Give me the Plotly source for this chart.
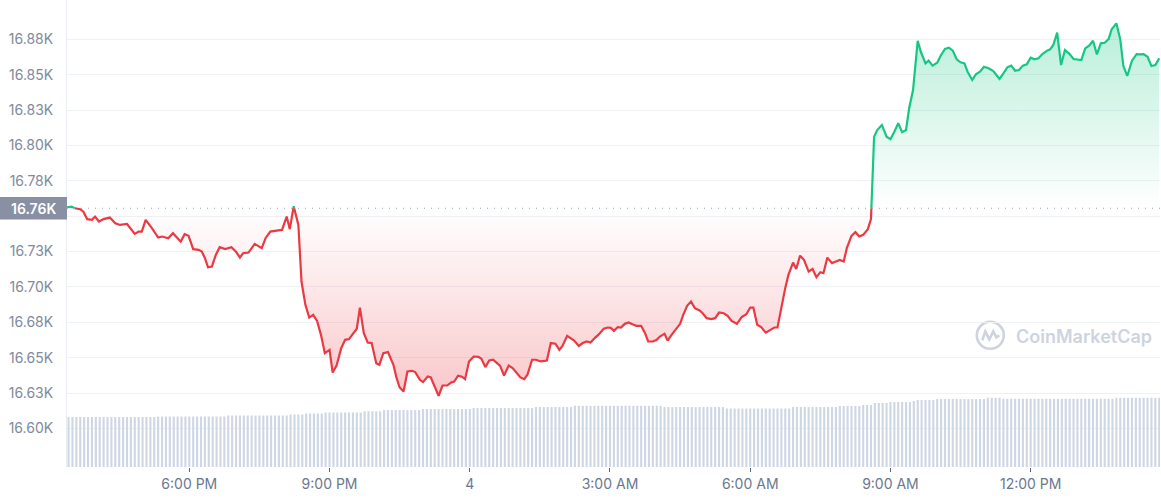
import pandas as pd
import plotly.graph_objects as go

# ---------------- data ----------------
times = [
    "2022-12-03 15:23", "2022-12-03 15:29", "2022-12-03 15:33", "2022-12-03 15:40", "2022-12-03 15:44",
    "2022-12-03 15:49", "2022-12-03 15:55", "2022-12-03 15:59", "2022-12-03 16:04", "2022-12-03 16:10",
    "2022-12-03 16:18", "2022-12-03 16:25", "2022-12-03 16:31", "2022-12-03 16:40", "2022-12-03 16:50",
    "2022-12-03 16:55", "2022-12-03 16:59", "2022-12-03 17:04", "2022-12-03 17:12", "2022-12-03 17:20",
    "2022-12-03 17:25", "2022-12-03 17:33", "2022-12-03 17:39", "2022-12-03 17:49", "2022-12-03 17:54",
    "2022-12-03 17:59", "2022-12-03 18:05", "2022-12-03 18:12", "2022-12-03 18:16", "2022-12-03 18:20",
    "2022-12-03 18:24", "2022-12-03 18:29", "2022-12-03 18:34", "2022-12-03 18:39", "2022-12-03 18:46",
    "2022-12-03 18:54", "2022-12-03 19:00", "2022-12-03 19:05", "2022-12-03 19:09", "2022-12-03 19:16",
    "2022-12-03 19:24", "2022-12-03 19:33", "2022-12-03 19:38", "2022-12-03 19:44", "2022-12-03 19:52",
    "2022-12-03 19:59", "2022-12-03 20:05", "2022-12-03 20:09", "2022-12-03 20:14", "2022-12-03 20:20",
    "2022-12-03 20:24", "2022-12-03 20:29", "2022-12-03 20:34", "2022-12-03 20:39", "2022-12-03 20:44",
    "2022-12-03 20:49", "2022-12-03 20:54", "2022-12-03 21:00", "2022-12-03 21:04", "2022-12-03 21:09",
    "2022-12-03 21:15", "2022-12-03 21:20", "2022-12-03 21:25", "2022-12-03 21:31", "2022-12-03 21:35",
    "2022-12-03 21:39", "2022-12-03 21:44", "2022-12-03 21:49", "2022-12-03 21:54", "2022-12-03 22:00",
    "2022-12-03 22:04", "2022-12-03 22:09", "2022-12-03 22:15", "2022-12-03 22:22", "2022-12-03 22:26",
    "2022-12-03 22:30", "2022-12-03 22:35", "2022-12-03 22:40", "2022-12-03 22:46", "2022-12-03 22:50",
    "2022-12-03 22:56", "2022-12-03 23:00", "2022-12-03 23:06", "2022-12-03 23:10", "2022-12-03 23:14",
    "2022-12-03 23:20", "2022-12-03 23:25", "2022-12-03 23:31", "2022-12-03 23:36", "2022-12-03 23:40",
    "2022-12-03 23:45", "2022-12-03 23:50", "2022-12-03 23:54", "2022-12-03 23:59",
    "2022-12-04 00:05", "2022-12-04 00:11", "2022-12-04 00:15", "2022-12-04 00:20", "2022-12-04 00:25",
    "2022-12-04 00:30", "2022-12-04 00:35", "2022-12-04 00:39", "2022-12-04 00:44", "2022-12-04 00:50",
    "2022-12-04 00:55", "2022-12-04 01:00", "2022-12-04 01:05", "2022-12-04 01:10", "2022-12-04 01:14",
    "2022-12-04 01:20", "2022-12-04 01:25", "2022-12-04 01:31", "2022-12-04 01:39", "2022-12-04 01:44",
    "2022-12-04 01:50", "2022-12-04 01:55", "2022-12-04 01:59", "2022-12-04 02:05", "2022-12-04 02:09",
    "2022-12-04 02:14", "2022-12-04 02:20", "2022-12-04 02:25", "2022-12-04 02:30", "2022-12-04 02:35",
    "2022-12-04 02:41", "2022-12-04 02:45", "2022-12-04 02:52", "2022-12-04 02:57", "2022-12-04 03:01",
    "2022-12-04 03:05", "2022-12-04 03:10", "2022-12-04 03:14", "2022-12-04 03:19", "2022-12-04 03:24",
    "2022-12-04 03:28", "2022-12-04 03:34", "2022-12-04 03:40", "2022-12-04 03:45", "2022-12-04 03:49",
    "2022-12-04 03:55", "2022-12-04 04:00", "2022-12-04 04:04", "2022-12-04 04:10", "2022-12-04 04:14",
    "2022-12-04 04:19", "2022-12-04 04:25", "2022-12-04 04:30", "2022-12-04 04:34", "2022-12-04 04:39",
    "2022-12-04 04:44", "2022-12-04 04:49", "2022-12-04 04:55", "2022-12-04 04:59", "2022-12-04 05:04",
    "2022-12-04 05:10", "2022-12-04 05:15", "2022-12-04 05:20", "2022-12-04 05:26", "2022-12-04 05:31",
    "2022-12-04 05:36", "2022-12-04 05:43", "2022-12-04 05:49", "2022-12-04 05:55", "2022-12-04 06:00",
    "2022-12-04 06:04", "2022-12-04 06:09", "2022-12-04 06:14", "2022-12-04 06:20", "2022-12-04 06:26",
    "2022-12-04 06:31", "2022-12-04 06:35", "2022-12-04 06:41", "2022-12-04 06:45", "2022-12-04 06:49",
    "2022-12-04 06:55", "2022-12-04 06:59", "2022-12-04 07:04", "2022-12-04 07:09", "2022-12-04 07:15",
    "2022-12-04 07:20", "2022-12-04 07:25", "2022-12-04 07:30", "2022-12-04 07:34", "2022-12-04 07:39",
    "2022-12-04 07:45", "2022-12-04 07:50", "2022-12-04 07:55", "2022-12-04 08:00", "2022-12-04 08:04",
    "2022-12-04 08:10", "2022-12-04 08:15", "2022-12-04 08:20", "2022-12-04 08:25", "2022-12-04 08:31",
    "2022-12-04 08:35", "2022-12-04 08:39", "2022-12-04 08:43", "2022-12-04 08:49", "2022-12-04 08:55",
    "2022-12-04 09:00", "2022-12-04 09:05", "2022-12-04 09:10", "2022-12-04 09:15", "2022-12-04 09:20",
    "2022-12-04 09:24", "2022-12-04 09:29", "2022-12-04 09:35", "2022-12-04 09:39", "2022-12-04 09:45",
    "2022-12-04 09:49", "2022-12-04 09:54", "2022-12-04 10:00", "2022-12-04 10:05", "2022-12-04 10:10",
    "2022-12-04 10:15", "2022-12-04 10:20", "2022-12-04 10:25", "2022-12-04 10:30", "2022-12-04 10:35",
    "2022-12-04 10:39", "2022-12-04 10:45", "2022-12-04 10:50", "2022-12-04 10:55", "2022-12-04 11:00",
    "2022-12-04 11:06", "2022-12-04 11:12", "2022-12-04 11:16", "2022-12-04 11:20", "2022-12-04 11:25",
    "2022-12-04 11:30", "2022-12-04 11:35", "2022-12-04 11:40", "2022-12-04 11:45", "2022-12-04 11:50",
    "2022-12-04 11:55", "2022-12-04 12:00", "2022-12-04 12:05", "2022-12-04 12:10", "2022-12-04 12:15",
    "2022-12-04 12:21", "2022-12-04 12:25", "2022-12-04 12:29", "2022-12-04 12:34", "2022-12-04 12:39",
    "2022-12-04 12:44", "2022-12-04 12:50", "2022-12-04 12:55", "2022-12-04 13:01", "2022-12-04 13:05",
    "2022-12-04 13:10", "2022-12-04 13:15", "2022-12-04 13:20", "2022-12-04 13:25", "2022-12-04 13:30",
    "2022-12-04 13:35", "2022-12-04 13:40", "2022-12-04 13:44", "2022-12-04 13:50", "2022-12-04 13:55",
    "2022-12-04 13:59", "2022-12-04 14:04", "2022-12-04 14:10", "2022-12-04 14:16", "2022-12-04 14:20",
    "2022-12-04 14:25", "2022-12-04 14:30", "2022-12-04 14:35", "2022-12-04 14:40", "2022-12-04 14:45",
]

prices = [
    16756.3, 16756.8, 16755.6, 16754.9, 16753.2,
    16747.9, 16747.4, 16749.7, 16746.2, 16747.9,
    16749.0, 16745.0, 16743.8, 16744.5, 16737.5,
    16739.1, 16739.1, 16747.4, 16741.5, 16734.9,
    16735.6, 16734.4, 16738.0, 16732.0, 16737.3,
    16736.1, 16726.7, 16726.2, 16725.0, 16720.5,
    16713.9, 16714.4, 16722.6, 16728.1, 16726.7,
    16728.1, 16724.8, 16720.7, 16723.8, 16724.3,
    16730.4, 16727.4, 16734.6, 16739.1, 16739.8,
    16740.3, 16749.7, 16740.8, 16757.0, 16743.8,
    16703.8, 16687.3, 16678.3, 16680.2, 16676.0,
    16666.1, 16653.2, 16655.5, 16639.5, 16644.4,
    16656.7, 16662.6, 16663.1, 16668.0, 16670.4,
    16685.4, 16667.3, 16660.7, 16660.3, 16646.1,
    16644.9, 16653.2, 16653.9, 16644.9, 16635.7,
    16628.9, 16626.1, 16640.2, 16640.7, 16639.8,
    16634.3, 16632.7, 16636.7, 16636.0, 16630.8,
    16623.0, 16630.3, 16630.3, 16632.4, 16633.1,
    16637.2, 16636.5, 16634.8, 16647.3,
    16650.8, 16650.6, 16649.2, 16643.3, 16648.0,
    16648.5, 16646.1, 16644.2, 16637.4, 16644.4,
    16642.6, 16639.5, 16636.0, 16634.8, 16637.9,
    16648.5, 16648.5, 16647.3, 16648.0, 16660.3,
    16659.8, 16655.5, 16658.3, 16665.4, 16663.8,
    16662.1, 16658.3, 16660.3, 16661.4, 16660.7,
    16664.2, 16666.1, 16670.4, 16671.3, 16671.1,
    16668.9, 16671.6, 16671.3, 16673.9, 16674.8,
    16673.7, 16672.5, 16672.5, 16667.3, 16661.4,
    16661.4, 16662.6, 16664.9, 16666.8, 16662.1,
    16666.1, 16670.1, 16673.9, 16680.2, 16686.6,
    16689.6, 16685.0, 16683.3, 16681.4, 16677.9,
    16677.2, 16677.9, 16681.9, 16681.4, 16679.5,
    16676.0, 16673.9, 16678.6, 16680.7, 16685.4,
    16685.4, 16673.2, 16671.6, 16667.7, 16669.7,
    16671.3, 16671.3, 16688.5, 16699.3, 16708.5,
    16717.2, 16712.7, 16722.1, 16719.1, 16710.8,
    16712.7, 16706.9, 16710.4, 16709.7, 16720.7,
    16716.8, 16717.9, 16719.1, 16717.9, 16727.4,
    16736.1, 16738.7, 16735.6, 16736.8, 16740.8,
    16748.0, 16806.2, 16810.9, 16814.5, 16806.2,
    16804.4, 16809.7, 16815.7, 16809.3, 16810.9,
    16826.3, 16839.2, 16874.0, 16866.2, 16858.0,
    16859.9, 16856.4, 16858.5, 16863.9, 16868.2,
    16869.1, 16867.0, 16860.9, 16858.8, 16858.0,
    16852.1, 16846.3, 16850.5, 16852.1, 16855.6,
    16854.5, 16852.6, 16849.8, 16847.0, 16851.0,
    16855.2, 16856.4, 16852.8, 16853.3, 16856.4,
    16857.3, 16862.0, 16860.9, 16861.6, 16864.6,
    16867.0, 16867.9, 16871.0, 16879.7, 16856.8,
    16867.4, 16864.6, 16861.1, 16860.4, 16860.4,
    16868.6, 16870.5, 16874.0, 16864.4, 16872.2,
    16872.6, 16875.2, 16882.1, 16886.3, 16875.0,
    16856.1, 16849.1, 16859.9, 16864.6, 16864.4,
    16864.6, 16862.7, 16856.1, 16856.8, 16861.6,
]

base_price = 16755.6  # opening price of the period (dotted reference line)

# 24h volume (billions USD), as step levels with the time each level starts
vol_change_times = [
    "2022-12-03 15:20", "2022-12-03 17:16", "2022-12-03 18:50", "2022-12-03 20:09", "2022-12-03 20:29",
    "2022-12-03 20:54", "2022-12-03 21:43", "2022-12-03 22:06", "2022-12-03 22:57", "2022-12-04 00:03",
    "2022-12-04 01:22", "2022-12-04 02:12", "2022-12-04 04:10", "2022-12-04 05:30", "2022-12-04 06:51",
    "2022-12-04 07:53", "2022-12-04 08:22", "2022-12-04 08:39", "2022-12-04 08:57", "2022-12-04 09:28",
    "2022-12-04 09:33", "2022-12-04 09:56", "2022-12-04 11:04", "2022-12-04 11:21", "2022-12-04 13:49",
]
vol_levels = [
    20.0, 20.2, 20.6, 21.0, 21.4,
    21.8, 22.3, 22.8, 23.2, 23.6,
    24.0, 24.5, 24.0, 23.4, 24.0,
    24.4, 24.8, 25.6, 26.0, 26.4,
    26.8, 27.2, 27.7, 27.3, 27.7,
]
vol_bar_start = "2022-12-03 15:25"
vol_bar_end = "2022-12-04 14:45"

ytick_vals = [16600, 16625, 16650, 16675, 16700, 16725, 16750, 16775, 16800, 16825, 16850, 16875]
ytick_text = ["16.60K", "16.63K", "16.65K", "16.68K", "16.70K", "16.73K", "",
              "16.78K", "16.80K", "16.83K", "16.85K", "16.88K"]
xtick_vals = ["2022-12-03 18:00", "2022-12-03 21:00", "2022-12-04 00:00", "2022-12-04 03:00",
              "2022-12-04 06:00", "2022-12-04 09:00", "2022-12-04 12:00"]
xtick_text = ["6:00 PM", "9:00 PM", "4", "3:00 AM", "6:00 AM", "9:00 AM", "12:00 PM"]

# ---------------- styling ----------------
RED = "#ea3943"
GREEN = "#16c784"
FONT = "Inter"
W, H = 1161, 500
ML, MR, MT, MB = 67, 1, 0, 33
PW, PH = W - ML - MR, H - MT - MB

# ---------------- build series (split at baseline) ----------------
t = pd.to_datetime(times)
xs, ys = [], []
for i, p in enumerate(prices):
    if i > 0:
        p0 = prices[i - 1]
        if (p0 - base_price) * (p - base_price) < 0:
            f = (base_price - p0) / (p - p0)
            xs.append(t[i - 1] + (t[i] - t[i - 1]) * f)
            ys.append(base_price)
    xs.append(t[i])
    ys.append(p)

green_line = [y if y >= base_price else None for y in ys]
red_line = [y if y <= base_price else None for y in ys]
green_area = [max(y, base_price) for y in ys]
red_area = [min(y, base_price) for y in ys]
base_arr = [base_price] * len(ys)

# volume bars on a 5-minute grid (step lookup of the levels)
bar_t = pd.date_range(vol_bar_start, vol_bar_end, freq="5min")
chg = pd.to_datetime(vol_change_times)
bar_v = []
for bt in bar_t:
    lvl = vol_levels[0]
    for ct, lv in zip(chg, vol_levels):
        if ct <= bt:
            lvl = lv
    bar_v.append(lvl)

fig = go.Figure()

fig.add_trace(go.Bar(x=bar_t, y=bar_v, yaxis="y2", marker=dict(color="#cfd6e4", line=dict(width=0)),
                     width=165000, hoverinfo="skip"))

fig.add_trace(go.Scatter(x=xs, y=base_arr, mode="lines", line=dict(width=0), hoverinfo="skip"))
fig.add_trace(go.Scatter(x=xs, y=green_area, mode="lines", line=dict(width=0), fill="tonexty",
                         fillgradient=dict(type="vertical", start=base_price, stop=max(prices),
                                           colorscale=[[0, "rgba(22,199,132,0)"], [1, "rgba(22,199,132,0.30)"]]),
                         hoverinfo="skip"))
fig.add_trace(go.Scatter(x=xs, y=base_arr, mode="lines", line=dict(width=0), hoverinfo="skip"))
fig.add_trace(go.Scatter(x=xs, y=red_area, mode="lines", line=dict(width=0), fill="tonexty",
                         fillgradient=dict(type="vertical", start=min(prices), stop=base_price,
                                           colorscale=[[0, "rgba(234,57,67,0.28)"], [1, "rgba(234,57,67,0)"]]),
                         hoverinfo="skip"))
fig.add_trace(go.Scatter(x=xs, y=red_line, mode="lines", line=dict(color=RED, width=2.2), connectgaps=False))
fig.add_trace(go.Scatter(x=xs, y=green_line, mode="lines", line=dict(color=GREEN, width=2.2), connectgaps=False))


def px_x(px):
    return (px - ML) / PW


def px_y(py):
    return 1 - (py - MT) / PH


shapes = [
    # dotted baseline
    dict(type="line", xref="paper", x0=0, x1=1, yref="y", y0=base_price, y1=base_price,
         line=dict(color="#9aa2b4", width=1, dash="1px,6px"), layer="above"),
    # baseline label box
    dict(type="rect", xref="paper", x0=px_x(0), x1=px_x(ML), yref="y",
         y0=base_price - 7.9, y1=base_price + 7.9, fillcolor="#8990a4", line=dict(width=0), layer="above"),
]

# watermark logo (circle + wave)
cx, cy, r = 990.3, 335.3, 13.5
shapes.append(dict(type="circle", xref="paper", yref="paper",
                   x0=px_x(cx - r), x1=px_x(cx + r), y0=px_y(cy + r), y1=px_y(cy - r),
                   line=dict(color="#cdd4e0", width=2.6), layer="below"))
wave = [(-8, 5), (-5, -4), (-1, 4), (3, -4), (6, 2), (9, 0)]
path = "M " + " L ".join(f"{px_x(cx + dx):.5f},{px_y(cy + dy):.5f}" for dx, dy in wave)
shapes.append(dict(type="path", xref="paper", yref="paper", path=path,
                   line=dict(color="#cdd4e0", width=2.6), layer="below"))

annotations = [
    dict(xref="paper", yref="y", x=px_x(ML / 2), y=base_price, text=f"{base_price/1000:.2f}K",
         showarrow=False, xanchor="center", yanchor="middle",
         font=dict(family=FONT, size=14, color="white", weight=600)),
    dict(xref="paper", yref="paper", x=px_x(1014), y=px_y(336), text="CoinMarketCap",
         showarrow=False, xanchor="left", yanchor="middle",
         font=dict(family=FONT, size=18, color="#cdd4e0", weight=600)),
]

fig.update_layout(
    width=W, height=H,
    margin=dict(l=ML, r=MR, t=MT, b=MB, pad=0),
    paper_bgcolor="white", plot_bgcolor="white",
    showlegend=False,
    shapes=shapes,
    annotations=annotations,
    xaxis=dict(type="date", range=["2022-12-03 15:23", "2022-12-04 14:46"],
               tickmode="array", tickvals=xtick_vals, ticktext=xtick_text,
               showgrid=False, zeroline=False, showline=False,
               ticks="outside", ticklen=4, tickcolor="#58667e", tickwidth=1,
               tickfont=dict(family=FONT, size=14, color="#6b7790")),
    yaxis=dict(range=[16572.7, 16902.8], tickmode="array", tickvals=ytick_vals, ticktext=ytick_text,
               showgrid=True, gridcolor="#eff2f5", gridwidth=1, zeroline=False,
               showline=True, linecolor="#e9ecf1", linewidth=1,
               ticks="", ticklabelstandoff=10,
               tickfont=dict(family=FONT, size=14, color="#808a9d")),
    yaxis2=dict(overlaying="y", range=[0, 186.92], visible=False, showgrid=False),
)

fig.write_html("out.html", config={"displayModeBar": False},
               post_script="document.body.style.margin='0';")
